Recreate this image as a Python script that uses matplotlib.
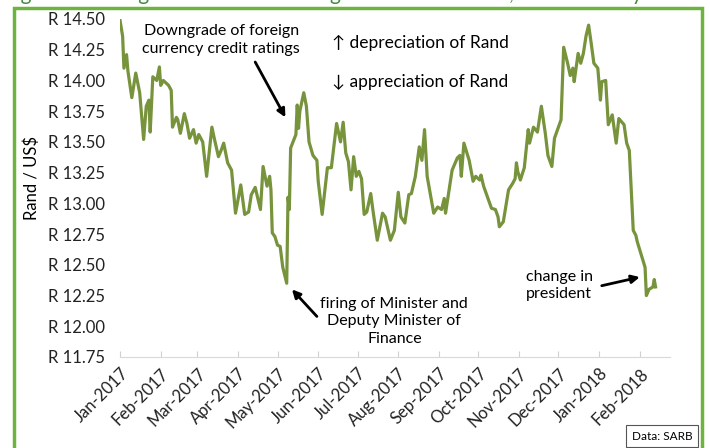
import pandas as pd
import matplotlib
matplotlib.use("Agg")
import matplotlib.pyplot as plt
import matplotlib.dates as mdates
from matplotlib.patches import Rectangle

# Rand per US dollar, Jan 2017 - Feb 2018
dates = [
    "2017-01-01", "2017-01-03", "2017-01-04", "2017-01-06", "2017-01-07", "2017-01-10",
    "2017-01-13", "2017-01-16", "2017-01-19", "2017-01-21", "2017-01-23", "2017-01-24",
    "2017-01-26", "2017-01-29", "2017-01-31", "2017-02-01", "2017-02-03", "2017-02-07",
    "2017-02-09", "2017-02-10", "2017-02-13", "2017-02-14", "2017-02-16", "2017-02-19",
    "2017-02-21", "2017-02-23", "2017-02-26", "2017-02-28", "2017-03-02", "2017-03-05",
    "2017-03-08", "2017-03-12", "2017-03-14", "2017-03-17", "2017-03-19", "2017-03-21",
    "2017-03-24", "2017-03-27", "2017-03-30", "2017-04-03", "2017-04-06", "2017-04-09",
    "2017-04-11", "2017-04-14", "2017-04-18", "2017-04-20", "2017-04-23", "2017-04-25",
    "2017-04-26", "2017-04-27", "2017-04-29", "2017-05-01", "2017-05-03", "2017-05-05",
    "2017-05-08", "2017-05-09", "2017-05-10", "2017-05-11", "2017-05-15", "2017-05-16",
    "2017-05-17", "2017-05-18", "2017-05-21", "2017-05-23", "2017-05-25", "2017-05-28",
    "2017-05-31", "2017-06-01", "2017-06-04", "2017-06-08", "2017-06-11", "2017-06-15",
    "2017-06-18", "2017-06-20", "2017-06-22", "2017-06-24", "2017-06-26", "2017-06-28",
    "2017-06-30", "2017-07-02", "2017-07-04", "2017-07-06", "2017-07-08", "2017-07-11",
    "2017-07-13", "2017-07-16", "2017-07-20", "2017-07-22", "2017-07-26", "2017-07-29",
    "2017-08-01", "2017-08-03", "2017-08-06", "2017-08-09", "2017-08-11", "2017-08-14",
    "2017-08-17", "2017-08-19", "2017-08-21", "2017-08-23", "2017-08-28", "2017-08-31",
    "2017-09-03", "2017-09-05", "2017-09-06", "2017-09-08", "2017-09-11", "2017-09-15",
    "2017-09-17", "2017-09-18", "2017-09-20", "2017-09-24", "2017-09-27", "2017-09-29",
    "2017-10-02", "2017-10-03", "2017-10-05", "2017-10-08", "2017-10-11", "2017-10-14",
    "2017-10-16", "2017-10-17", "2017-10-20", "2017-10-24", "2017-10-27", "2017-10-29",
    "2017-10-30", "2017-10-31", "2017-11-02", "2017-11-05", "2017-11-07", "2017-11-08",
    "2017-11-09", "2017-11-12", "2017-11-15", "2017-11-18", "2017-11-21", "2017-11-23",
    "2017-11-26", "2017-11-28", "2017-12-03", "2017-12-05", "2017-12-08", "2017-12-10",
    "2017-12-12", "2017-12-13", "2017-12-16", "2017-12-18", "2017-12-20", "2017-12-22",
    "2017-12-24", "2017-12-26", "2017-12-28", "2017-12-31", "2018-01-02", "2018-01-03",
    "2018-01-06", "2018-01-08", "2018-01-11", "2018-01-14", "2018-01-16", "2018-01-20",
    "2018-01-22", "2018-01-24", "2018-01-26", "2018-01-27", "2018-01-29", "2018-01-30",
    "2018-02-05", "2018-02-06", "2018-02-08", "2018-02-11", "2018-02-12", "2018-02-13",
]
rand_usd = [
    14.49, 14.36, 14.10, 14.21, 14.08, 13.86,
    14.06, 13.90, 13.52, 13.79, 13.84, 13.58,
    14.03, 14.00, 14.11, 13.96, 14.00, 13.96,
    13.92, 13.62, 13.70, 13.68, 13.57, 13.73,
    13.65, 13.53, 13.60, 13.49, 13.56, 13.50,
    13.22, 13.62, 13.52, 13.38, 13.43, 13.49,
    13.33, 13.27, 12.92, 13.15, 12.91, 12.93,
    13.07, 13.13, 12.95, 13.30, 13.14, 13.22,
    13.11, 12.76, 12.73, 12.66, 12.65, 12.48,
    12.35, 13.05, 12.95, 13.45, 13.56, 13.80,
    13.61, 13.75, 13.90, 13.79, 13.50, 13.39,
    13.35, 13.18, 12.91, 13.29, 13.29, 13.65,
    13.50, 13.66, 13.41, 13.34, 13.11, 13.38,
    13.22, 13.26, 13.20, 12.91, 12.93, 13.08,
    12.92, 12.70, 12.92, 12.89, 12.70, 12.78,
    13.09, 12.89, 12.84, 13.07, 13.08, 13.22,
    13.46, 13.35, 13.60, 13.22, 12.92, 12.97,
    12.95, 13.04, 12.92, 13.06, 13.27, 13.37,
    13.39, 13.22, 13.49, 13.35, 13.18, 13.22,
    13.19, 13.23, 13.14, 13.05, 12.96, 12.95,
    12.89, 12.81, 12.85, 13.11, 13.16, 13.20,
    13.33, 13.26, 13.19, 13.29, 13.50, 13.60,
    13.49, 13.62, 13.58, 13.79, 13.57, 13.39,
    13.30, 13.53, 13.68, 14.27, 14.14, 14.04,
    14.10, 13.99, 14.22, 14.14, 14.22, 14.36,
    14.45, 14.30, 14.14, 14.10, 13.84, 13.99,
    14.00, 13.64, 13.72, 13.49, 13.69, 13.64,
    13.49, 13.43, 13.00, 12.78, 12.74, 12.69,
    12.48, 12.25, 12.30, 12.32, 12.38, 12.32,
]
month_ticks = pd.date_range("2017-01-01", "2018-02-01", freq="MS")
y_ticks = [11.75, 12.00, 12.25, 12.50, 12.75, 13.00, 13.25, 13.50, 13.75, 14.00, 14.25, 14.50]

plt.rcParams['font.family'] = ['Lato', 'DejaVu Sans']

df = pd.DataFrame({"date": pd.to_datetime(dates), "rate": rand_usd})
T = pd.Timestamp

fig = plt.figure(figsize=(7.1, 4.48), dpi=100)
ax = fig.add_axes([120 / 710, 1 - 357 / 448, 550 / 710, 338 / 448])

ax.plot(df["date"], df["rate"], color="#77933c", lw=2.3, solid_joinstyle="round")

ax.set_xlim(T("2017-01-01"), T("2018-02-24"))
ax.set_ylim(11.75, 14.5)
ax.set_yticks(y_ticks)
ax.set_yticklabels(["R %.2f" % v for v in y_ticks], fontsize=12)
ax.set_xticks(month_ticks)
ax.xaxis.set_major_formatter(mdates.DateFormatter("%b-%Y"))
plt.setp(ax.get_xticklabels(), rotation=45, ha="right", rotation_mode="anchor", fontsize=12)
ax.tick_params(axis="y", length=0, pad=10.5, colors="#222222")
ax.tick_params(axis="x", length=4, direction="in", color="#d0d0d0", pad=6, labelcolor="#222222")
for s in ["left", "right", "top"]:
    ax.spines[s].set_visible(False)
ax.spines["bottom"].set_color("#d9d9d9")
ax.set_ylabel("Rand / US$", fontsize=12)
ax.yaxis.set_label_coords(-0.145, 0.53)

# annotations
arrow = dict(arrowstyle="-|>", color="black", lw=2, shrinkA=0, shrinkB=0, mutation_scale=12)
ax.text(T("2017-03-19"), 14.33, "Downgrade of foreign\ncurrency credit ratings",
        ha="center", va="center", fontsize=11.5, linespacing=1.3)
ax.annotate("", xy=(T("2017-05-07"), 13.70), xytext=(T("2017-04-14"), 14.15), arrowprops=arrow)

ax.text(T("2017-07-29"), 12.04, "firing of Minister and\nDeputy Minister of\nFinance",
        ha="center", va="center", fontsize=11.5, linespacing=1.3)
ax.annotate("", xy=(T("2017-05-12"), 12.30), xytext=(T("2017-05-31"), 12.08), arrowprops=arrow)

ax.text(T("2017-11-06"), 12.33, "change in\npresident",
        ha="left", va="center", fontsize=11.5, linespacing=1.3)
ax.annotate("", xy=(T("2018-02-01"), 12.40), xytext=(T("2018-01-03"), 12.33), arrowprops=arrow)

fig.text(332 / 710, 1 - 43 / 448, "\u2191 depreciation of Rand", fontsize=12.5, va="center")
fig.text(332 / 710, 1 - 82 / 448, "\u2193 appreciation of Rand", fontsize=12.5, va="center")

# source box
fig.text(662 / 710, 1 - 436 / 448, "Data: SARB", fontsize=8.5, ha="center", va="center",
         bbox=dict(boxstyle="square,pad=0.45", fc="white", ec="#555555", lw=0.8))

# green frame and title strip above it
fig.add_artist(Rectangle((14 / 710, -0.05), 688 / 710, 1.05 - 8 / 448, transform=fig.transFigure,
                         fill=False, ec="#6cb33f", lw=2.5))
fig.text(0.005, 1.0, "Figure: Exchange rate of the Rand against the US dollar, 2017 to early 2018",
         fontsize=15, color="#3e8e3a", va="baseline", ha="left")

fig.savefig("out.png", dpi=100, facecolor="white")
